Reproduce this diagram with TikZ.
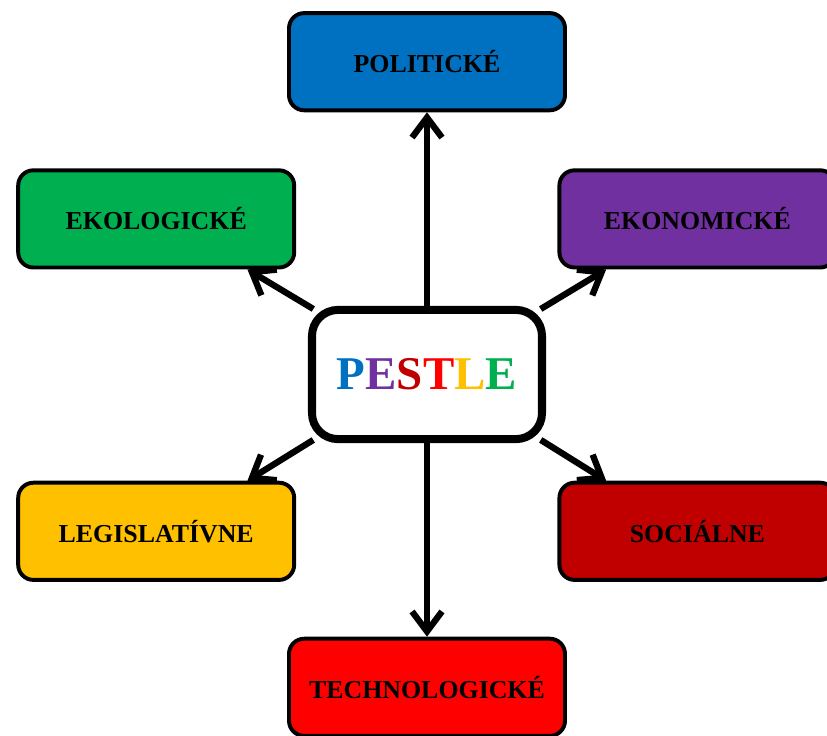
\documentclass[tikz,border=0pt]{standalone}
\usepackage{fontspec}
\setmainfont{Liberation Serif}
\usetikzlibrary{arrows.meta}

\definecolor{polblue}{HTML}{0070C0}
\definecolor{ekonviolet}{HTML}{7030A0}
\definecolor{socred}{HTML}{C00000}
\definecolor{techred}{HTML}{FF0000}
\definecolor{leggold}{HTML}{FFC000}
\definecolor{ekolgreen}{HTML}{00B050}

\tikzset{
	factor/.style={draw, line width=2.8pt, rounded corners=0.38cm,
		minimum width=6.9cm, minimum height=2.43cm,
		font=\fontsize{18.4}{22}\selectfont\bfseries},
	hub/.style={draw, fill=white, line width=5.7pt, rounded corners=0.65cm,
		minimum width=5.75cm, minimum height=3.23cm,
		font=\fontsize{33.4}{40}\selectfont\bfseries},
	link/.style={line width=4.5pt, -{Straight Barb[length=0.5cm, width=0.75cm]}}
}

\begin{document}
\begin{tikzpicture}
	\useasboundingbox (-10.675,-9.0125) rectangle (10.0,9.3625);
	\clip (-10.675,-9.0125) rectangle (10.0,9.3625);

	% centre
	\node[hub] (pestle) at (0,0) {\textcolor{polblue}{P}\textcolor{ekonviolet}{E}\textcolor{socred}{S}\textcolor{techred}{T}\textcolor{leggold}{L}\textcolor{ekolgreen}{E}};

	% the six factors
	\node[factor, fill=polblue] (pol) at (0,7.82) {POLITICKÉ};
	\node[factor, fill=ekolgreen] (ekol) at (-6.77,3.89) {EKOLOGICKÉ};
	\node[factor, fill=ekonviolet] (ekon) at (6.76,3.89) {EKONOMICKÉ};
	\node[factor, fill=leggold] (legis) at (-6.77,-3.92) {LEGISLATÍVNE};
	\node[factor, fill=socred] (soc) at (6.76,-3.92) {SOCIÁLNE};
	\node[factor, fill=techred] (tech) at (0,-7.82) {TECHNOLOGICKÉ};

	% arrows out of the centre
	\draw[link] (pestle.north) -- (pol.south);
	\draw[link] (pestle.south) -- (tech.north);
	\draw[link, shorten <=-0.15cm] (pestle.150) -- (ekol.-29);
	\draw[link, shorten <=-0.15cm] (pestle.30) -- (ekon.209);
	\draw[link, shorten <=-0.15cm] (pestle.210) -- (legis.29);
	\draw[link, shorten <=-0.15cm] (pestle.330) -- (soc.151);
\end{tikzpicture}
\end{document}
